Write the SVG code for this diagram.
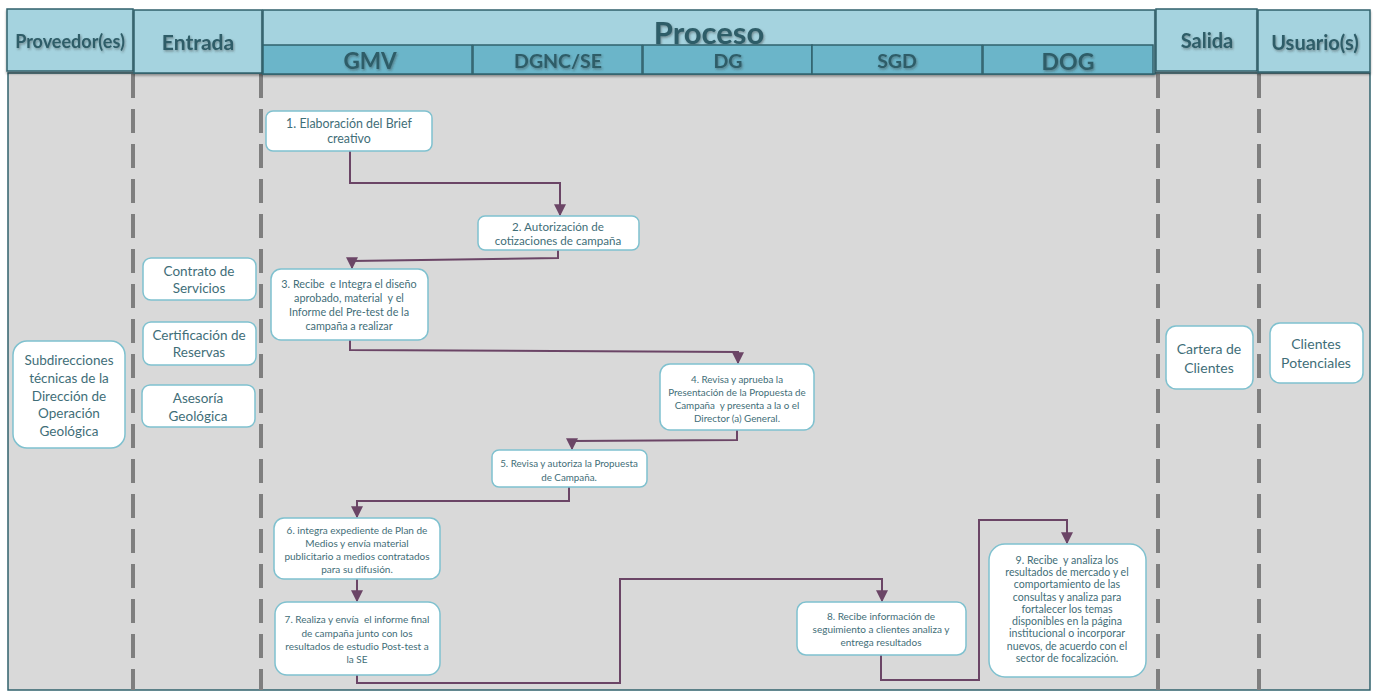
<svg xmlns="http://www.w3.org/2000/svg" width="1375" height="693" viewBox="0 0 1375 693">
<defs>
<marker id="ah" viewBox="0 0 10 10" refX="9" refY="5" markerWidth="6" markerHeight="6" markerUnits="strokeWidth" orient="auto">
<path d="M0,0 L10,5 L0,10 z" fill="#6b4566"/>
</marker>
<filter id="sh" x="-10%" y="-20%" width="130%" height="150%">
<feDropShadow dx="1" dy="1.5" stdDeviation="0.8" flood-color="#333" flood-opacity="0.45"/>
</filter>
<filter id="bs" x="-5%" y="-10%" width="110%" height="130%">
<feDropShadow dx="0" dy="2" stdDeviation="1.2" flood-color="#000" flood-opacity="0.35"/>
</filter>
</defs>
<style>
.hd{fill:#a5d3df;stroke:#31626c;stroke-width:1.5}
.sub{fill:#6bb5c9;stroke:#31626c;stroke-width:1.5}
.ht{font-family:Lato,"Liberation Sans",sans-serif;font-weight:bold;fill:#2e5d68;text-anchor:middle}
.nd{fill:#ffffff;stroke:#7fc1cf;stroke-width:1.5}
.nt{font-family:Lato,"Liberation Sans",sans-serif;fill:#3f6e78;text-anchor:middle}
.dash{stroke:#7f7f7f;stroke-width:4;stroke-dasharray:24 11;fill:none}
.cn{stroke:#6b4566;stroke-width:2;fill:none}
</style>
<rect width="1375" height="693" fill="#ffffff"/>
<rect x="8" y="73" width="1362" height="617" fill="#d9d9d9" stroke="#31626c" stroke-width="1.5"/>
<g id="lanes">
<line class="dash" x1="133" y1="74" x2="133" y2="690"/>
<line class="dash" x1="261" y1="74" x2="261" y2="690"/>
<line class="dash" x1="1158" y1="74" x2="1158" y2="690"/>
<line class="dash" x1="1259" y1="74" x2="1259" y2="690"/>
</g>
<g id="headers">
<g id="h-proveedor"><rect class="hd" x="7" y="9" width="126" height="62" filter="url(#bs)"/><text class="ht" x="70" y="48" font-size="18" filter="url(#sh)">Proveedor(es)</text></g>
<g id="h-entrada"><rect class="hd" x="134" y="10" width="128" height="63" filter="url(#bs)"/><text class="ht" x="198" y="50" font-size="21" filter="url(#sh)">Entrada</text></g>
<g id="h-proceso"><rect class="hd" x="263" y="10" width="892" height="64" filter="url(#bs)"/><text class="ht" x="709" y="44" font-size="31" filter="url(#sh)">Proceso</text></g>
<g id="h-gmv"><rect class="sub" x="263" y="45" width="209" height="29"/><text class="ht" x="370" y="69" font-size="22.5" filter="url(#sh)">GMV</text></g>
<g id="h-dgnc"><rect class="sub" x="473" y="45" width="169" height="29"/><text class="ht" x="558" y="68" font-size="19.5" filter="url(#sh)">DGNC/SE</text></g>
<g id="h-dg"><rect class="sub" x="643" y="45" width="169" height="29"/><text class="ht" x="728" y="68" font-size="19.5" filter="url(#sh)">DG</text></g>
<g id="h-sgd"><rect class="sub" x="812" y="45" width="170" height="29"/><text class="ht" x="897" y="68" font-size="19.5" filter="url(#sh)">SGD</text></g>
<g id="h-dog"><rect class="sub" x="983" y="45" width="170" height="29"/><text class="ht" x="1068" y="70" font-size="23" filter="url(#sh)">DOG</text></g>
<g id="h-salida"><rect class="hd" x="1156" y="9" width="101" height="62" filter="url(#bs)"/><text class="ht" x="1207" y="48" font-size="20" filter="url(#sh)">Salida</text></g>
<g id="h-usuario"><rect class="hd" x="1258" y="10" width="112" height="62" filter="url(#bs)"/><text class="ht" x="1315" y="50" font-size="20" filter="url(#sh)">Usuario(s)</text></g>
</g>
<g id="connectors">
<path class="cn" d="M350,151 V183 H560 V215" marker-end="url(#ah)"/>
<path class="cn" d="M558,250 V258 L352,261 V268" marker-end="url(#ah)"/>
<path class="cn" d="M350,340 V350 L738,352 V363" marker-end="url(#ah)"/>
<path class="cn" d="M737,430 V440 L572,441 V449" marker-end="url(#ah)"/>
<path class="cn" d="M569,487 V501 H357 V517" marker-end="url(#ah)"/>
<path class="cn" d="M357,579 V601" marker-end="url(#ah)"/>
<path class="cn" d="M357,675 V683 H620 V579 H882 V601" marker-end="url(#ah)"/>
<path class="cn" d="M881,655 V680 H979 V520 H1067 V543" marker-end="url(#ah)"/>
</g>
<g id="n-subdirecciones"><rect class="nd" x="13" y="341" width="112" height="107" rx="14"/>
<text class="nt" font-size="13.5"><tspan x="69" y="365">Subdirecciones</tspan><tspan x="69" y="383">técnicas de la</tspan><tspan x="69" y="401">Dirección de</tspan><tspan x="69" y="418">Operación</tspan><tspan x="69" y="436">Geológica</tspan></text></g>
<g id="n-contrato"><rect class="nd" x="143" y="258" width="113" height="42" rx="8"/>
<text class="nt" font-size="13.5"><tspan x="199" y="276">Contrato de</tspan><tspan x="199" y="293">Servicios</tspan></text></g>
<g id="n-certificacion"><rect class="nd" x="143" y="322" width="113" height="43" rx="8"/>
<text class="nt" font-size="13.5"><tspan x="199" y="340">Certificación de</tspan><tspan x="199" y="357">Reservas</tspan></text></g>
<g id="n-asesoria"><rect class="nd" x="142" y="385" width="113" height="42" rx="8"/>
<text class="nt" font-size="13.5"><tspan x="198" y="403">Asesoría</tspan><tspan x="198" y="421">Geológica</tspan></text></g>
<g id="n-cartera"><rect class="nd" x="1166" y="326" width="87" height="63" rx="10"/>
<text class="nt" font-size="14"><tspan x="1209" y="354">Cartera de</tspan><tspan x="1209" y="373">Clientes</tspan></text></g>
<g id="n-clientes"><rect class="nd" x="1270" y="323" width="93" height="60" rx="10"/>
<text class="nt" font-size="14"><tspan x="1316" y="349">Clientes</tspan><tspan x="1316" y="368">Potenciales</tspan></text></g>
<g id="n1"><rect class="nd" x="266" y="111" width="166" height="40" rx="7"/>
<text class="nt" font-size="12.4"><tspan x="349" y="128">1. Elaboración del Brief</tspan><tspan x="349" y="143">creativo</tspan></text></g>
<g id="n2"><rect class="nd" x="478" y="216" width="161" height="34" rx="7"/>
<text class="nt" font-size="11.6"><tspan x="558" y="231">2. Autorización de</tspan><tspan x="558" y="245">cotizaciones de campaña</tspan></text></g>
<g id="n3"><rect class="nd" x="271" y="269" width="157" height="71" rx="10"/>
<text class="nt" font-size="10.8" xml:space="preserve"><tspan x="349" y="288">3. Recibe  e Integra el diseño</tspan><tspan x="349" y="302">aprobado, material  y el</tspan><tspan x="349" y="316">Informe del Pre-test de la</tspan><tspan x="349" y="330">campaña a realizar</tspan></text></g>
<g id="n4"><rect class="nd" x="660" y="364" width="154" height="66" rx="10"/>
<text class="nt" font-size="9.8" xml:space="preserve"><tspan x="737" y="383">4. Revisa y aprueba la</tspan><tspan x="737" y="396">Presentación de la Propuesta de</tspan><tspan x="737" y="409">Campaña  y presenta a la o el</tspan><tspan x="737" y="422">Director (a) General.</tspan></text></g>
<g id="n5"><rect class="nd" x="492" y="450" width="155" height="37" rx="7"/>
<text class="nt" font-size="9.8"><tspan x="569" y="467">5. Revisa y autoriza la Propuesta</tspan><tspan x="569" y="481">de Campaña.</tspan></text></g>
<g id="n6"><rect class="nd" x="274" y="518" width="166" height="61" rx="10"/>
<text class="nt" font-size="10"><tspan x="357" y="534">6. integra expediente de Plan de</tspan><tspan x="357" y="547">Medios y envía material</tspan><tspan x="357" y="560">publicitario a medios contratados</tspan><tspan x="357" y="573">para su difusión.</tspan></text></g>
<g id="n7"><rect class="nd" x="275" y="602" width="165" height="73" rx="12"/>
<text class="nt" font-size="10" xml:space="preserve"><tspan x="357" y="623">7. Realiza y envía  el informe final</tspan><tspan x="357" y="637">de campaña junto con los</tspan><tspan x="357" y="650">resultados de estudio Post-test a</tspan><tspan x="357" y="663">la SE</tspan></text></g>
<g id="n8"><rect class="nd" x="797" y="602" width="169" height="53" rx="9"/>
<text class="nt" font-size="10"><tspan x="881" y="620">8. Recibe información de</tspan><tspan x="881" y="633">seguimiento a clientes analiza y</tspan><tspan x="881" y="646">entrega resultados</tspan></text></g>
<g id="n9"><rect class="nd" x="989" y="544" width="157" height="133" rx="16"/>
<text class="nt" font-size="10.6" xml:space="preserve"><tspan x="1067" y="564">9. Recibe  y analiza los</tspan><tspan x="1067" y="576">resultados de mercado y el</tspan><tspan x="1067" y="588">comportamiento de las</tspan><tspan x="1067" y="601">consultas y analiza para</tspan><tspan x="1067" y="613">fortalecer los temas</tspan><tspan x="1067" y="625">disponibles en la página</tspan><tspan x="1067" y="637">institucional o incorporar</tspan><tspan x="1067" y="650">nuevos, de acuerdo con el</tspan><tspan x="1067" y="662">sector de focalización.</tspan></text></g>
</svg>
